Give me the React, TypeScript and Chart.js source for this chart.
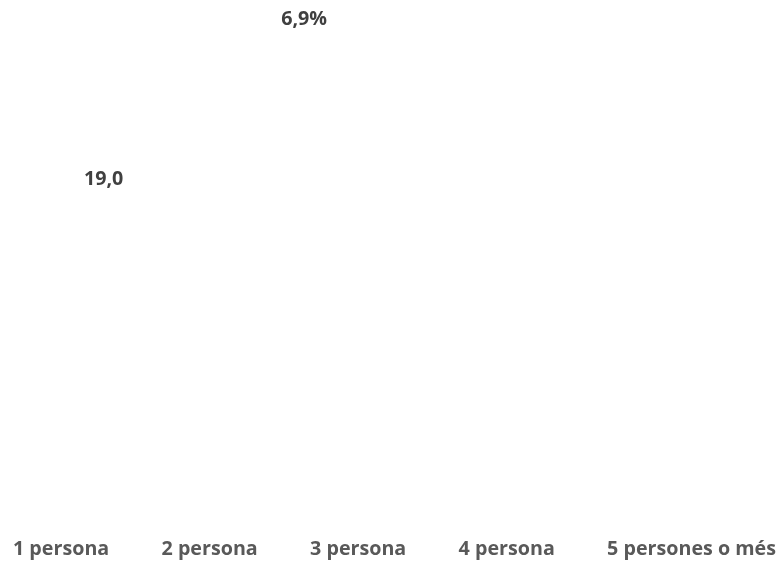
import { useEffect, useRef } from "react";
import { Chart, registerables } from "chart.js";

Chart.register(...registerables);

const categories = ["1 persona", "2 persona", "3 persona", "4 persona", "5 persones o més"];

// Series 1: mean value (left axis)
const valuePositions = [0.61];
const values = [19.0];

// Series 2: percentage (right axis)
const percentPositions = [1.96];
const percents = [6.9];

const fmt = (v: number) => v.toFixed(1).replace(".", ",");

const labelPlugin = {
  id: "valueLabels",
  afterDatasetsDraw(chart: any) {
    const ctx = chart.ctx;
    ctx.save();
    ctx.font = "bold 19.7px 'Open Sans'";
    ctx.fillStyle = "#404040";
    ctx.textAlign = "center";
    ctx.textBaseline = "alphabetic";
    chart.data.datasets.forEach((ds: any, i: number) => {
      const meta = chart.getDatasetMeta(i);
      meta.data.forEach((el: any, j: number) => {
        const v = ds.data[j].y;
        const text = fmt(v) + (ds.suffix || "");
        ctx.fillText(text, el.x, el.y - 6);
      });
    });
    ctx.restore();
  },
};

export default function App() {
  const ref = useRef<HTMLCanvasElement>(null);
  useEffect(() => {
    const chart = new Chart(ref.current!, {
      type: "scatter",
      data: {
        datasets: [
          {
            label: "Valor",
            data: values.map((v, i) => ({ x: valuePositions[i], y: v })),
            yAxisID: "y",
            pointRadius: 0,
            showLine: false,
          } as any,
          {
            label: "Percentatge",
            suffix: "%",
            data: percents.map((v, i) => ({ x: percentPositions[i], y: v })),
            yAxisID: "y1",
            pointRadius: 0,
            showLine: false,
          } as any,
        ],
      },
      options: {
        animation: false,
        responsive: true,
        maintainAspectRatio: false,
        layout: { padding: { left: 13, right: 6, top: 0, bottom: 0 } },
        plugins: { legend: { display: false }, tooltip: { enabled: false } },
        scales: {
          x: {
            type: "linear",
            min: 0,
            max: categories.length - 1,
            grid: { display: false, drawTicks: false },
            border: { display: false },
            ticks: {
              stepSize: 1,
              autoSkip: false,
              maxRotation: 0,
              align: "start",
              padding: 3,
              color: "#595959",
              font: { family: "'Open Sans'", size: 19.7, weight: "bold", lineHeight: 1.0 },
              callback: (v: any) => categories[Number(v)] ?? "",
            },
          },
          y: { display: false, min: 0, max: 29.5 },
          y1: { display: false, min: 0, max: 7.33, position: "right" },
        },
      },
      plugins: [labelPlugin],
    });
    return () => chart.destroy();
  }, []);
  return (
    <div style={{ position: "fixed", left: 0, top: 0, width: 779, height: 562, background: "#fff" }}>
      <canvas ref={ref} />
    </div>
  );
}
